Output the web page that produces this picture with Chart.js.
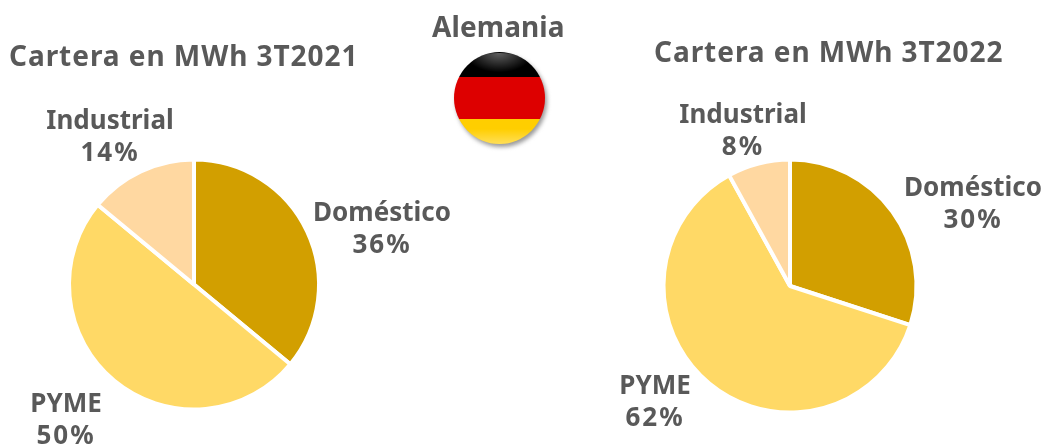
<!DOCTYPE html>
<html>
<head>
<meta charset="utf-8">
<script src="https://cdn.jsdelivr.net/npm/chart.js@4/dist/chart.umd.min.js"></script>
<style>
html, body { margin: 0; padding: 0; background: #fff; }
#page { position: relative; width: 1044px; height: 444px; overflow: hidden; font-family: "Noto Sans", sans-serif; color: #595959; }
.wrap { position: absolute; top: 0; width: 522px; height: 444px; }
#wrap1 { left: 0; }
#wrap2 { left: 522px; }
.title { position: absolute; font-size: 28px; font-weight: 700; white-space: nowrap; letter-spacing: 0.95px; line-height: 30px; }
#title1 { left: 9px; top: 40px; }
#title2 { left: 654px; top: 36px; }
#country { left: 432px; top: 11px; letter-spacing: 0.1px; }
/* flag badge */
#flag { position: absolute; left: 453.5px; top: 52px; width: 91px; height: 92px; border-radius: 50%; overflow: hidden;
  background: linear-gradient(to bottom, #000 0, #000 27.5%, #dd0000 27.5%, #dd0000 72.5%, #ffce00 72.5%, #ffce00 100%); }
#flagShadow { position: absolute; left: 456px; top: 55px; width: 91px; height: 92px; border-radius: 50%; background: #999; filter: blur(2px); }
#flag::before { content: ""; position: absolute; left: 14%; top: 1%; width: 72%; height: 21%; border-radius: 50%;
  background: radial-gradient(ellipse at center top, rgba(255,255,255,0.38), rgba(255,255,255,0) 72%); }
#flag::after { content: ""; position: absolute; left: 0; top: 72.5%; width: 100%; height: 27.5%;
  background: linear-gradient(to bottom, rgba(255,255,255,0) 40%, rgba(255,255,255,0.35) 100%); }
</style>
</head>
<body>
<div id="page">
  <div class="wrap" id="wrap1"><canvas id="pie2021" width="522" height="444"></canvas></div>
  <div class="wrap" id="wrap2"><canvas id="pie2022" width="522" height="444"></canvas></div>
  <div class="title" id="title1"></div>
  <div class="title" id="title2"></div>
  <div class="title" id="country"></div>
  <div id="flagShadow"></div>
  <div id="flag"></div>
</div>
<script>
// DATA
const categories = ['Doméstico', 'PYME', 'Industrial'];
const values2021 = [36, 50, 14];
const values2022 = [30, 62, 8];
const sliceColors = ['#D29F00', '#FFD966', '#FFD8A1'];

// TITLES
document.getElementById('title1').textContent = 'Cartera en MWh 3T2021';
document.getElementById('title2').textContent = 'Cartera en MWh 3T2022';
document.getElementById('country').textContent = 'Alemania';

// SLICE LABELS, offsets measured from the pie centre
const sliceLabels = {
    id: 'sliceLabels',
    afterDatasetsDraw(chart, args, opts) {
        const ctx = chart.ctx;
        const arcs = chart.getDatasetMeta(0).data;
        ctx.save();
        ctx.font = '700 26px "Noto Sans", sans-serif';
        ctx.fillStyle = '#595959';
        ctx.textAlign = 'center';
        ctx.textBaseline = 'middle';
        arcs.forEach((arc, i) => {
            const x = arc.x + opts.offsets[i][0];
            const y = arc.y + opts.offsets[i][1];
            ctx.letterSpacing = '0px';
            ctx.fillText(categories[i], x, y);
            ctx.letterSpacing = '2px';
            ctx.fillText(chart.data.datasets[0].data[i] + '%', x, y + 32);
        });
        ctx.restore();
    }
};

function drawPie(id, values, padding, offsets) {
    return new Chart(document.getElementById(id), {
        type: 'pie',
        data: {
            labels: categories,
            datasets: [{
                data: values,
                backgroundColor: sliceColors,
                borderColor: '#ffffff',
                borderWidth: 4
            }]
        },
        plugins: [sliceLabels],
        options: {
            responsive: false,
            animation: false,
            layout: { padding: padding },
            plugins: {
                legend: { display: false },
                tooltip: { enabled: false },
                sliceLabels: { offsets: offsets }
            }
        }
    });
}

drawPie('pie2021', values2021,
    { left: 67, right: 201, top: 157.5, bottom: 32.5 },
    [[188, -71], [-128, 120], [-84, -163]]);
drawPie('pie2022', values2022,
    { left: 139.5, right: 125.5, top: 157.5, bottom: 29.5 },
    [[183, -97], [-135, 101], [-47, -170]]);
</script>
</body>
</html>
